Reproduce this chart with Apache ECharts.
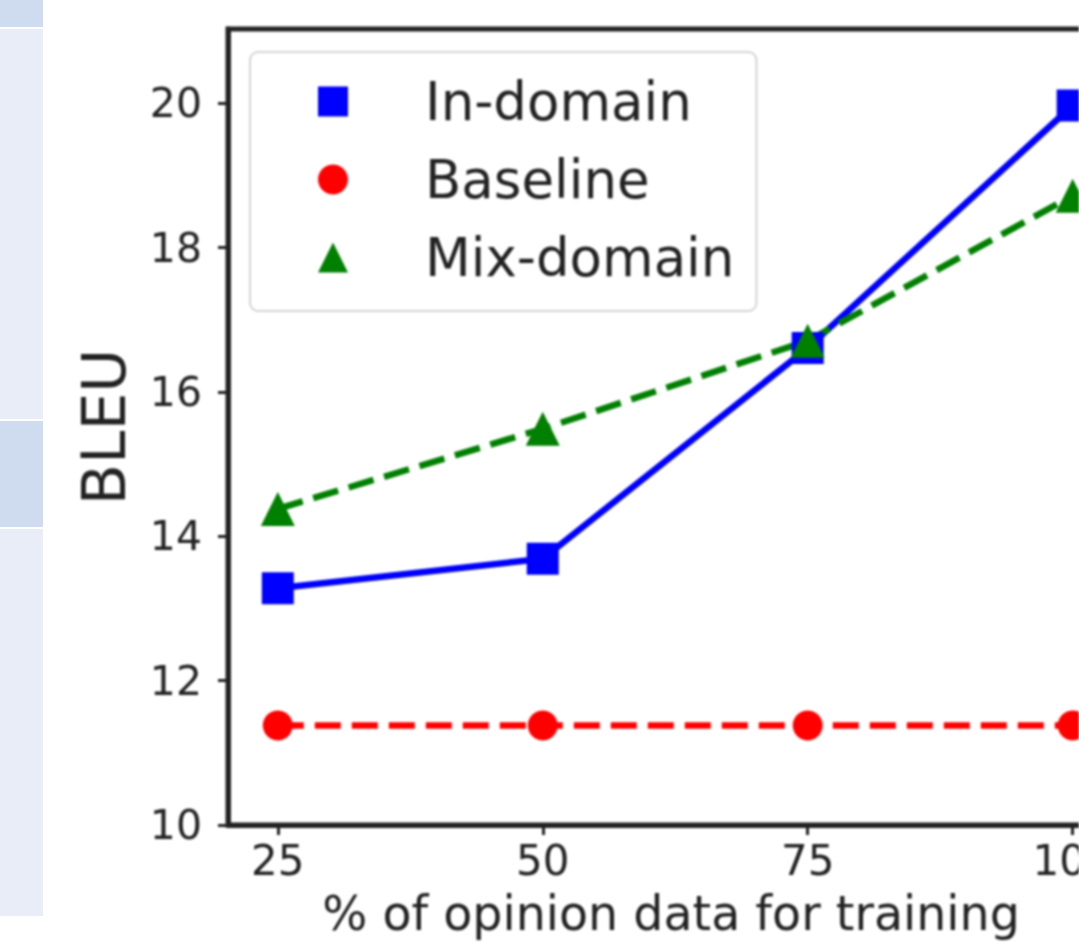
<!DOCTYPE html>
<html>
<head>
<meta charset="utf-8">
<script src="https://cdn.jsdelivr.net/npm/echarts@6/dist/echarts.min.js"></script>
<style>
  html, body { margin: 0; padding: 0; background: #fff; }
  #side { position: absolute; left: 0; top: 0; width: 43px; z-index: 2; }
  #side div { width: 43px; border-bottom: 2px solid #fff; }
  .dark { background: #cfdcef; }
  .light { background: #e8edf7; }
  #chart { position: absolute; left: 0; top: 0; width: 1079px; height: 942px; filter: blur(1.1px); }
</style>
</head>
<body>
<div id="side">
  <div class="dark" style="height:27px"></div>
  <div class="light" style="height:390px"></div>
  <div class="dark" style="height:106px"></div>
  <div class="light" style="height:387px"></div>
</div>
<div id="chart"></div>
<script>
const percentages = [25, 50, 75, 100];
const inDomain = [13.28, 13.69, 16.61, 19.97];
const baseline = [11.38, 11.38, 11.38, 11.38];
const mixDomain = [14.38, 15.49, 16.71, 18.72];
const xTicks = [25, 50, 75, 100];
const yTicks = [10, 12, 14, 16, 18, 20];

const font = "DejaVu Sans";
const ink = "#222";

const toPoints = (values) => percentages.map((p, i) => [p, values[i]]);

const chart = echarts.init(document.getElementById("chart"), null, { renderer: "svg" });

const buildSeries = (name, values, color, symbol, size, dashed) => ({
  name,
  type: "line",
  data: toPoints(values),
  symbol,
  symbolSize: size,
  clip: true,
  itemStyle: { color, borderWidth: 0 },
  lineStyle: { color, width: 6.5, type: dashed ? [26, 11] : "solid" },
  emphasis: { disabled: true },
});

chart.setOption({
  animation: false,
  backgroundColor: "#fff",
  grid: {
    left: 228,
    right: -35,
    top: 29,
    bottom: 117,
    outerBoundsMode: "none",
    containLabel: false,
    show: true,
    borderColor: ink,
    borderWidth: 5,
  },
  legend: {
    orient: "vertical",
    left: 250,
    top: 52,
    padding: [23, 22, 27, 68],
    itemWidth: 30,
    itemHeight: 30,
    itemGap: 25,
    backgroundColor: "#fff",
    borderColor: "#d4d4d4",
    borderWidth: 2,
    borderRadius: 8,
    itemStyle: { borderWidth: 0 },
    textStyle: {
      fontFamily: font,
      fontSize: 53,
      lineHeight: 50,
      color: ink,
      padding: [0, 0, 0, 72],
    },
    data: [
      { name: "In-domain", icon: "rect" },
      { name: "Baseline", icon: "circle" },
      { name: "Mix-domain", icon: "triangle" },
    ],
  },
  xAxis: {
    type: "value",
    min: 20.3,
    max: 103.9,
    name: "% of opinion data for training",
    nameLocation: "middle",
    nameGap: 64,
    nameTextStyle: { fontFamily: font, fontSize: 47.5, color: ink },
    splitLine: { show: false },
    axisLine: { onZero: false, lineStyle: { color: ink, width: 5 } },
    axisTick: { customValues: xTicks, length: 10, lineStyle: { color: ink, width: 3 } },
    axisLabel: { customValues: xTicks, margin: 14, fontFamily: font, fontSize: 42, color: ink },
  },
  yAxis: {
    type: "value",
    min: 10,
    max: 21.03,
    name: "BLEU",
    nameLocation: "middle",
    nameGap: 94,
    nameTextStyle: { fontFamily: font, fontSize: 60, color: ink },
    splitLine: { show: false },
    axisLine: { onZero: false, lineStyle: { color: ink, width: 5 } },
    axisTick: { customValues: yTicks, length: 10, lineStyle: { color: ink, width: 3 } },
    axisLabel: { customValues: yTicks, margin: 26, fontFamily: font, fontSize: 41, color: ink },
  },
  series: [
    buildSeries("In-domain", inDomain, "#0000ff", "rect", 32, false),
    buildSeries("Baseline", baseline, "#ff0000", "circle", 30, true),
    buildSeries("Mix-domain", mixDomain, "#008000", "triangle", 34, true),
  ],
});
</script>
</body>
</html>
